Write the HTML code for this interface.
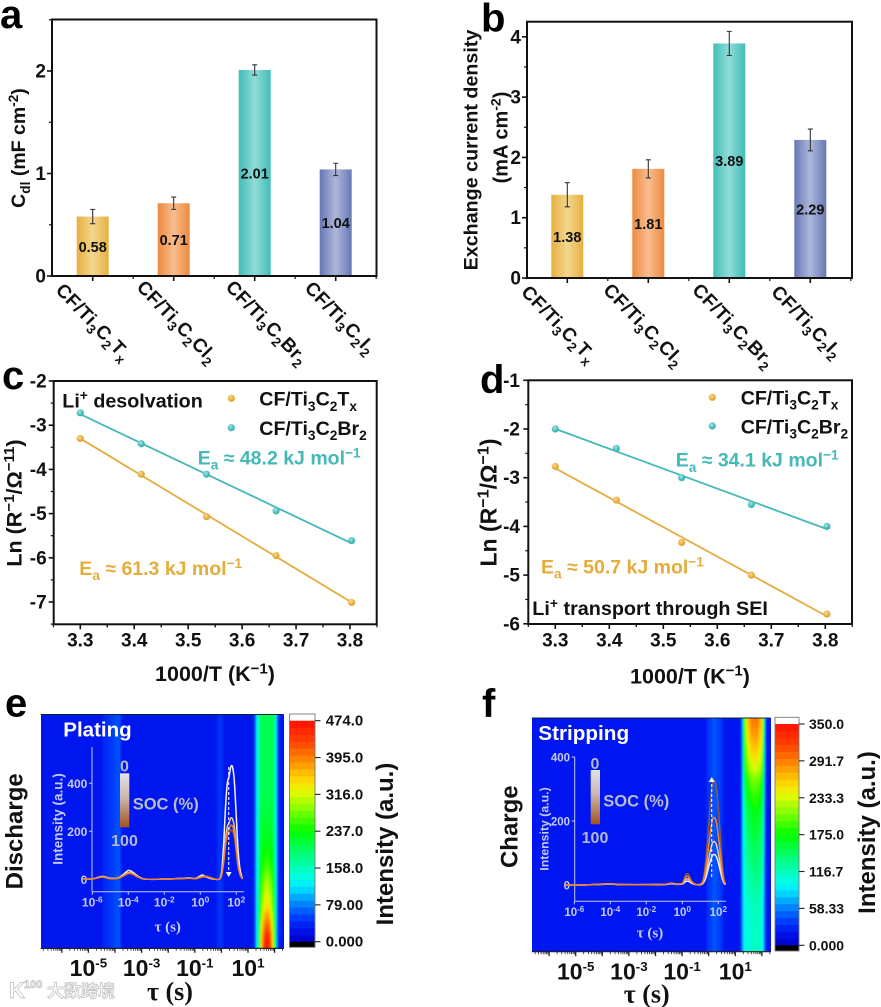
<!DOCTYPE html>
<html lang="en">
<head>
<meta charset="utf-8">
<title>Electrochemical characterisation panels</title>
<style>
html,body{margin:0;padding:0;background:#fff;}
#figure{display:block;width:881px;height:1007px;font-family:"Liberation Sans","Noto Sans CJK SC",sans-serif;font-weight:bold;filter:blur(.35px);}
</style>
</head>
<body>
<svg id="figure" xmlns="http://www.w3.org/2000/svg" width="881" height="1007" viewBox="0 0 881 1007">
<defs>
<filter id="soft" x="-2%" y="-2%" width="104%" height="104%"><feGaussianBlur stdDeviation="0.8 3"/></filter>
<clipPath id="clip-e"><rect x="41" y="715" width="243" height="234"/></clipPath>
<clipPath id="clip-f"><rect x="532" y="718" width="239" height="234"/></clipPath>
<linearGradient id="soc-grad-e" x1="0" y1="0" x2="0" y2="1"><stop offset="0" stop-color="#e4e4e8"/><stop offset=".45" stop-color="#cbb6ac"/><stop offset="1" stop-color="#a4531f"/></linearGradient>
<radialGradient id="dot-gold" cx=".4" cy=".35" r=".7"><stop offset="0" stop-color="#f7dc9a"/><stop offset=".6" stop-color="#e8ae3e"/><stop offset="1" stop-color="#e0a030"/></radialGradient>
<radialGradient id="dot-teal" cx=".4" cy=".35" r=".7"><stop offset="0" stop-color="#a8e6e4"/><stop offset=".6" stop-color="#48bcbc"/><stop offset="1" stop-color="#3cb0b0"/></radialGradient>
</defs>
</svg>
<script>
/* ---------- chart data ---------- */
const categories = ['CF/Ti_{3}C_{2}T_{x}', 'CF/Ti_{3}C_{2}Cl_{2}', 'CF/Ti_{3}C_{2}Br_{2}', 'CF/Ti_{3}C_{2}I_{2}'];
const cdlValues = [0.58, 0.71, 2.01, 1.04];
const cdlErrors = [0.07, 0.06, 0.05, 0.06];
const cdlTicks = [0, 1, 2];
const exchangeValues = [1.38, 1.81, 3.89, 2.29];
const exchangeErrors = [0.2, 0.15, 0.2, 0.18];
const exchangeTicks = [0, 1, 2, 3, 4];

const inverseT = [3.3, 3.413, 3.534, 3.663, 3.803];
const inverseTTicks = [3.3, 3.4, 3.5, 3.6, 3.7, 3.8];
const desolvationTx = [-3.30, -4.11, -5.07, -5.95, -7.01];
const desolvationBr = [-2.72, -3.42, -4.11, -4.94, -5.61];
const desolvationTicks = [-2, -3, -4, -5, -6, -7];
const transportTx = [-2.77, -3.46, -4.33, -5.0, -5.80];
const transportBr = [-2.0, -2.40, -3.0, -3.55, -4.0];
const transportTicks = [-1, -2, -3, -4, -5, -6];

const colorFractions = [0, .06, .12, .18, .24, .28, .38, .5, .6, .68, .74, .82, .9, 1];
const colorRed   = [0, 0, 0, 0, 0, 0, 0, 0, 130, 230, 255, 255, 255, 255];
const colorGreen = [0, 20, 70, 140, 220, 255, 255, 255, 255, 250, 210, 140, 70, 15];
const colorBlue  = [200, 240, 255, 255, 255, 240, 140, 0, 0, 0, 0, 0, 0, 0];

const heatTauE = [-7, -4.5, -4.42, -4.2, -3.85, -3.72, -0.2, -0.12, 0.02, 0.1, 1.15, 1.25, 1.3, 1.35, 1.4, 1.45, 1.5, 1.6, 1.7, 1.8, 1.9, 1.95, 2, 2.05, 2.1, 2.15, 2.3, 2.5];
const heatBaseE = [28, 28, 40, 46, 62, 28, 28, 46, 46, 28, 28, 45, 100, 135, 165, 195, 205, 208, 208, 208, 205, 200, 175, 130, 75, 40, 30, 28];
const heatHotE = [0, 0, 0, 0, 0, 0, 0, 0, 0, 0, 0, 0, 0, 0, .1, .3, .55, .85, 1, .9, .65, .45, .25, .05, 0, 0, 0, 0];
const heatPeakE = [205, 205, 205, 205, 205, 205, 205, 205, 205, 208, 212, 216, 222, 228, 235, 243, 255, 272, 295, 312, 330, 350, 385, 420, 455, 474];
const heatTauF = [-7, -0.1, -0.05, 0.1, 0.2, 0.4, 0.5, 0.55, 1.05, 1.15, 1.2, 1.25, 1.3, 1.35, 1.4, 1.5, 1.6, 1.7, 1.8, 1.9, 2, 2.05, 2.1, 2.15, 2.2, 2.3, 2.5];
const heatBaseF = [21, 21, 34, 38, 48, 38, 34, 21, 21, 21, 30, 55, 85, 95, 100, 105, 110, 115, 115, 110, 105, 90, 50, 30, 21, 21, 21];
const heatHotF = [0, 0, 0, 0, 0, 0, 0, 0, 0, 0, 0, 0, .3, .55, .75, .9, 1, 1, 1, .95, .85, .6, .25, 0, 0, 0, 0];
const heatPeakF = [295, 285, 275, 262, 250, 235, 215, 200, 190, 180, 170, 165, 160, 155, 150, 145, 140, 135, 130, 125, 120, 118, 116, 115, 115, 115];

const colorbarLabelsE = ['0.000', '79.00', '158.0', '237.0', '316.0', '395.0', '474.0'];
const colorbarLabelsF = ['0.000', '58.33', '116.7', '175.0', '233.3', '291.7', '350.0'];
const heatDecadesE = [-5, -3, -1, 1];
const heatDecadesF = [-5, -3, -1, 1];

const insetTauE = [-6.5, -6.2, -5.9, -5.6, -5.4, -5.1, -4.8, -4.5, -4.2, -4.0, -3.8, -3.5, -3.2, -2.8, -2, -1.5, -1, -0.6, -0.3, -0.1, 0.1, 0.3, 0.5, 0.8, 1, 1.1, 1.2, 1.3, 1.4, 1.5, 1.6, 1.7, 1.8, 1.9, 2.0, 2.1, 2.2, 2.3, 2.35];
const insetE1 = [2, 1, 3, 10, 12, 6, 4, 8, 25, 37, 32, 15, 3, 0, 1, 2, 4, 6, 3, 10, 18, 12, 5, 0, 0, 5, 40, 150, 300, 400, 430, 470, 465, 400, 260, 120, 45, 12, 2];
const insetE2 = [2, 1, 3, 9, 10, 5, 3, 7, 20, 28, 26, 12, 2, 0, 1, 2, 4, 5, 3, 8, 12, 10, 7, 1, 0, 3, 25, 85, 170, 220, 235, 255, 250, 215, 140, 65, 25, 8, 2];
const insetE3 = [2, 1, 3, 8, 10, 4, 3, 6, 18, 25, 24, 11, 2, 0, 1, 2, 3, 5, 3, 6, 10, 12, 8, 1, 0, 3, 22, 75, 150, 195, 210, 225, 220, 190, 125, 58, 22, 7, 2];
const insetE4 = [2, 1, 2, 8, 9, 4, 2, 5, 16, 23, 22, 10, 2, 0, 1, 2, 3, 4, 2, 5, 9, 13, 9, 2, 0, 3, 20, 70, 140, 178, 190, 205, 200, 172, 112, 52, 20, 6, 2];
const insetTauF = [-6.5, -5.5, -5, -4.5, -4, -3.5, -3, -2, -1.5, -1, -0.6, -0.3, 0, 0.1, 0.2, 0.3, 0.4, 0.5, 0.7, 0.9, 1.1, 1.2, 1.3, 1.4, 1.5, 1.6, 1.7, 1.8, 1.9, 2, 2.1, 2.2, 2.3, 2.4];
const insetF1 = [0, 0, 1, 3, 4, 2, 1, 1, 2, 2, 6, 3, 6, 18, 33, 35, 27, 14, 3, 1, 8, 30, 75, 140, 210, 280, 322, 325, 300, 240, 160, 80, 25, 4];
const insetF2 = [0, 0, 1, 3, 4, 2, 1, 1, 2, 2, 6, 3, 5, 14, 25, 27, 21, 11, 3, 1, 6, 20, 50, 92, 140, 182, 208, 210, 195, 155, 104, 52, 16, 3];
const insetF3 = [0, 0, 1, 2, 3, 2, 1, 1, 2, 2, 5, 3, 4, 10, 17, 19, 15, 8, 2, 1, 4, 13, 32, 60, 90, 118, 134, 135, 125, 100, 67, 33, 10, 2];
const insetF4 = [0, 0, 1, 2, 3, 1, 1, 1, 1, 1, 4, 2, 3, 7, 11, 12, 10, 6, 2, 0, 3, 9, 22, 42, 63, 82, 94, 95, 88, 70, 47, 24, 7, 1];
const insetTicksE = [0, 200, 400];
const insetTicksF = [0, 200, 400];
const insetDecades = [-6, -4, -2, 0, 2];

/* ---------- helpers ---------- */
const SVG_NS = 'http://www.w3.org/2000/svg';
const root = document.getElementById('figure');
const defs = root.querySelector('defs');
function add(parent, tag, attrs) {
  const el = document.createElementNS(SVG_NS, tag);
  for (const k in attrs) el.setAttribute(k, attrs[k]);
  parent.appendChild(el);
  return el;
}
function rich(el, str, size, scale) {
  const re = /([_^])\{([^}]*)\}|([^_^]+)/g;
  let m, off = 0;
  while ((m = re.exec(str))) {
    const ts = document.createElementNS(SVG_NS, 'tspan');
    if (m[3] !== undefined) {
      ts.setAttribute('dy', -off);
      off = 0;
      ts.textContent = m[3];
    } else {
      const d = m[1] === '_' ? size * .26 : -size * .36;
      ts.setAttribute('dy', d - off);
      off = d;
      ts.setAttribute('font-size', size * (scale || .7));
      ts.textContent = m[2];
    }
    el.appendChild(ts);
  }
}
function text(parent, str, x, y, size, anchor, fill, rot, family, scale) {
  const attrs = { x: x, y: y, 'font-size': size, 'text-anchor': anchor || 'start', fill: fill || '#111' };
  if (rot) attrs.transform = 'rotate(' + rot + ' ' + x + ' ' + y + ')';
  if (family) attrs['font-family'] = family;
  const el = add(parent, 'text', attrs);
  rich(el, str, size, scale);
  return el;
}
function line(parent, x1, y1, x2, y2, stroke, w) {
  return add(parent, 'line', { x1: x1, y1: y1, x2: x2, y2: y2, stroke: stroke, 'stroke-width': w });
}
function colormap(f) {
  f = Math.max(0, Math.min(1, f));
  let i = 0;
  while (i < colorFractions.length - 2 && f > colorFractions[i + 1]) i++;
  const t = (f - colorFractions[i]) / (colorFractions[i + 1] - colorFractions[i]);
  const c = a => Math.round(a[i] + (a[i + 1] - a[i]) * t);
  return 'rgb(' + c(colorRed) + ',' + c(colorGreen) + ',' + c(colorBlue) + ')';
}
function smoothPath(xs, ys) {
  let d = 'M' + xs[0].toFixed(2) + ' ' + ys[0].toFixed(2);
  for (let i = 0; i < xs.length - 1; i++) {
    const p0 = Math.max(i - 1, 0), p3 = Math.min(i + 2, xs.length - 1);
    const c1x = xs[i] + (xs[i + 1] - xs[p0]) / 6, c1y = ys[i] + (ys[i + 1] - ys[p0]) / 6;
    const c2x = xs[i + 1] - (xs[p3] - xs[i]) / 6, c2y = ys[i + 1] - (ys[p3] - ys[i]) / 6;
    d += 'C' + c1x.toFixed(2) + ' ' + c1y.toFixed(2) + ' ' + c2x.toFixed(2) + ' ' + c2y.toFixed(2) + ' ' + xs[i + 1].toFixed(2) + ' ' + ys[i + 1].toFixed(2);
  }
  return d;
}

/* ---------- bar panels ---------- */
const barGrad = [['#e6b040', '#f3d68e'], ['#ee8a3c', '#f8bd90'], ['#3fbdb8', '#92dcd9'], ['#6877b4', '#adb7da']];
function barPanel(id, L, R, T, B, yUnit, values, errors, ticks, yLabelRight, firstCenter, step, catDx, catDy) {
  const g = add(root, 'g', {});
  
  
  const y = v => B - v * yUnit;
  const x = i => firstCenter + i * step;
  values.forEach((v, i) => {
    const gid = id + '-bar-grad-' + i;
    const lg = add(defs, 'linearGradient', { id: gid, x1: 0, y1: 0, x2: 1, y2: 0 });
    add(lg, 'stop', { offset: 0, 'stop-color': barGrad[i][0] });
    add(lg, 'stop', { offset: .5, 'stop-color': barGrad[i][1] });
    add(lg, 'stop', { offset: 1, 'stop-color': barGrad[i][0] });
    const bar = add(g, 'rect', { x: x(i) - 16, y: y(v), width: 32, height: B - y(v), fill: 'url(#' + gid + ')' });
    
    
    const eb = add(g, 'path', {
      d: 'M' + x(i) + ' ' + y(v + errors[i]) + 'V' + y(v - errors[i]) +
         'M' + (x(i) - 2.5) + ' ' + y(v + errors[i]) + 'h5M' + (x(i) - 2.5) + ' ' + y(v - errors[i]) + 'h5',
      stroke: '#333', 'stroke-width': 1.1, fill: 'none' });
    
    
    const val = text(g, v.toFixed(2), x(i), y(v / 2) + 5.5, 14.5, 'middle', '#111');
    
    
    const tick = line(g, x(i), B, x(i), B + 5, '#111', 1.6);
    
    
    const minor = line(g, x(i) + step / 2, B, x(i) + step / 2, B + 3, '#111', 1.2);
    
    
    const cat = text(g, categories[i], x(i) + catDx[i], B + catDy[i], 19, 'start', '#111', 46);
    cat.setAttribute('letter-spacing', '.4');
    
    
  });
  ticks.forEach((t, i) => {
    const tick = line(g, L - 5, y(t), L, y(t), '#111', 1.6);
    
    
    const lab = text(g, String(t), yLabelRight, y(t) + 6.5, 19, 'end', '#111');
    
    
    const yHalf = y(t + .5);
    if (yHalf > T) {
      const minor = line(g, L - 3, yHalf, L, yHalf, '#111', 1.2);
      
      
    }
  });
  const frame = add(g, 'rect', { x: L, y: T, width: R - L, height: B - T, fill: 'none', stroke: '#111', 'stroke-width': 2 });
  
  
}
barPanel('panel-a', 52, 376.5, 19.5, 276, 102.5, cdlValues, cdlErrors, cdlTicks, 46, 92.7, 81, [-38, -38, -30, -32], [15, 12, 12, 13]);
barPanel('panel-b', 527, 852, 21.7, 278, 60.3, exchangeValues, exchangeErrors, exchangeTicks, 521, 567.3, 81, [-47, -46, -38, -40], [15, 13, 13, 15]);

/* ---------- scatter / fit panels ---------- */
function fit(xs, ys) {
  const n = xs.length, mx = xs.reduce((a, b) => a + b) / n, my = ys.reduce((a, b) => a + b) / n;
  let sxy = 0, sxx = 0;
  xs.forEach((x, i) => { sxy += (x - mx) * (ys[i] - my); sxx += (x - mx) * (x - mx); });
  const m = sxy / sxx;
  return x => my + m * (x - mx);
}
function linePanel(id, L, R, T, B, x33, xUnit, yUnit, seriesTx, seriesBr, ticks, yLabelRight, xLabelY) {
  const g = add(root, 'g', {});
  
  
  const x = v => x33 + (v - 3.3) * xUnit;
  const y = v => T + (ticks[0] - v) * yUnit;
  [[seriesTx, '#e5ac3c', 'dot-gold', 'tx'], [seriesBr, '#45b8b8', 'dot-teal', 'br']].forEach(s => {
    const f = fit(inverseT, s[0]);
    const x0 = inverseT[0], x1 = inverseT[inverseT.length - 1];
    const ln = line(g, x(x0), y(f(x0)), x(x1), y(f(x1)), s[1], 1.8);
    
    
    inverseT.forEach((t, i) => {
      const c = add(g, 'circle', { cx: x(t), cy: y(s[0][i]), r: 3.6, fill: 'url(#' + s[2] + ')' });
      
      
    });
  });
  ticks.forEach((t, i) => {
    const tick = line(g, L - 5, y(t), L, y(t), '#111', 1.6);
    
    
    const lab = text(g, String(t), yLabelRight, y(t) + 6.5, 19, 'end', '#111');
    
    
    if (y(t - .5) < B) {
      const minor = line(g, L - 3, y(t - .5), L, y(t - .5), '#111', 1.2);
      
      
    }
  });
  inverseTTicks.forEach((t, i) => {
    const tick = line(g, x(t), B, x(t), B + 5, '#111', 1.6);
    
    
    const lab = text(g, t.toFixed(1), x(t), xLabelY, 19, 'middle', '#111');
    
    
    [-.05, .05].forEach(d => {
      const minor = line(g, x(t + d), B, x(t + d), B + 3, '#111', 1.2);
      
      
    });
  });
  const frame = add(g, 'rect', { x: L, y: T, width: R - L, height: B - T, fill: 'none', stroke: '#111', 'stroke-width': 2 });
  
  
}
linePanel('panel-c', 53.7, 376.7, 381, 624.3, 80.3, 539.4, 44.2, desolvationTx, desolvationBr, desolvationTicks, 46.7, 646.7);
linePanel('panel-d', 528.3, 852, 380.3, 624, 555.3, 540, 48.7, transportTx, transportBr, transportTicks, 520, 646.7);

/* ---------- heatmap panels ---------- */
function heatPanel(o) {
  const g = add(root, 'g', {});
  
  
  const x = t => o.x1 + (t - 1) * 26.6;
  const clipG = add(g, 'g', { 'clip-path': 'url(#' + o.clip + ')' });
  
  
  const bg = add(clipG, 'rect', { x: o.L, y: o.T, width: o.R - o.L, height: o.B - o.T, fill: colormap(.06) });
  
  
  const softG = add(clipG, 'g', { filter: 'url(#soft)' });
  
  
  const h = (o.B - o.T) / o.peak.length;
  const t0 = o.tau[0], tN = o.tau[o.tau.length - 1];
  o.peak.forEach((p, i) => {
    const gid = o.id + '-row-grad-' + i;
    const lg = add(defs, 'linearGradient', { id: gid, gradientUnits: 'userSpaceOnUse', x1: x(t0), y1: 0, x2: x(tN), y2: 0 });
    o.tau.forEach((t, j) => {
      const v = o.base[j] + (p - o.basePeak) * o.hot[j];
      add(lg, 'stop', { offset: (t - t0) / (tN - t0), 'stop-color': colormap(v / o.max) });
    });
    const row = add(softG, 'rect', { x: o.L - 8, y: o.T + i * h - (i === 0 ? 8 : 0), width: o.R - o.L + 16, height: h + .6 + (i === 0 || i === o.peak.length - 1 ? 8 : 0), fill: 'url(#' + gid + ')' });
    
    
  });
  const topEdge = line(g, o.L, o.T, o.R, o.T, '#123', 1);
  
  
  const axisLine = line(g, o.L, o.B, o.R, o.B, '#222', 1.2);
  
  

  /* log ticks */
  for (let d = -7; d <= 2; d++) {
    if (x(d) >= o.L - .5 && x(d) <= o.R) {
      const tick = line(g, x(d), o.B, x(d), o.B + 4.5, '#222', 1.3);
      
      
    }
    for (let m = 2; m < 10; m++) {
      const xm = x(d + Math.log10(m));
      if (xm >= o.L && xm <= o.R) {
        const minor = line(g, xm, o.B, xm, o.B + 2.5, '#222', .8);
        
        
      }
    }
  }
  o.decades.forEach((d, i) => {
    const lab = text(g, '10^{' + (d < 0 ? '-' : '') + Math.abs(d) + '}', x(d) + o.labelShift, o.labelY, 23, 'middle', '#111', 0, null, .58);
    
    
  });

  /* colour bar */
  const cb = o.cb;
  const cy = v => cb.y0 - v / o.max * (cb.y0 - cb.yMax);
  const white = add(g, 'rect', { x: cb.x, y: cb.top, width: cb.w, height: cb.yMax - cb.top, fill: '#fff' });
  
  
  const bands = 32;
  for (let i = 0; i < bands; i++) {
    const v0 = o.max * i / bands, v1 = o.max * (i + 1) / bands;
    const band = add(g, 'rect', { x: cb.x, y: cy(v1), width: cb.w, height: cy(v0) - cy(v1) + .4, fill: colormap((i + .5) / bands) });
    
    
  }
  const black = add(g, 'rect', { x: cb.x, y: cb.y0, width: cb.w, height: cb.bottom - cb.y0, fill: '#000' });
  
  
  const border = add(g, 'rect', { x: cb.x, y: cb.top, width: cb.w, height: cb.bottom - cb.top, fill: 'none', stroke: '#777', 'stroke-width': .9 });
  
  
  o.cbLabels.forEach((s, i) => {
    const v = Number(s);
    const tick = line(g, cb.x + cb.w, cy(v), cb.x + cb.w + 5.5, cy(v), '#222', 1.1);
    
    
    const lab = text(g, s, cb.labelX, cy(v) + 5, cb.font, 'start', '#111');
    
    
  });

  /* inset */
  const ins = o.inset;
  const ix = t => ins.x0 + t * 18;
  const iy = v => ins.y0 - v * ins.yUnit;
  const axisColor = '#c4caf2';
  const inset = add(g, 'g', {});
  
  
  const yAxis = line(inset, ins.left, ins.top, ins.left, ins.bottom, axisColor, 1);
  
  
  const xAxis = line(inset, ins.left, ins.bottom, ins.right, ins.bottom, axisColor, 1);
  
  
  ins.ticks.forEach((t, i) => {
    const tick = line(inset, ins.left - 3, iy(t), ins.left, iy(t), axisColor, 1);
    
    
    const lab = text(inset, String(t), ins.yLabelRight, iy(t) + 4.5, ins.font, 'end', '#c4caf2');
    
    
  });
  insetDecades.forEach((d, i) => {
    const tick = line(inset, ix(d), ins.bottom, ix(d), ins.bottom + 3, axisColor, 1);
    
    
    const lab = text(inset, '10^{' + (d < 0 ? '-' : '') + Math.abs(d) + '}', ix(d), ins.xLabelY, ins.font, 'middle', '#c4caf2');
    
    
  });
  ins.series.forEach((s, i) => {
    const p = add(inset, 'path', { d: smoothPath(ins.tau.map(ix), s.map(iy)), fill: 'none', stroke: ins.colors[i], 'stroke-width': 1.5 });
    
    
  });
  const arrow = line(inset, ins.arrowX, ins.arrowFrom, ins.arrowX, ins.arrowTo, '#f4f4ff', 1.1);
  arrow.setAttribute('stroke-dasharray', '3 2');
  
  
  const dir = ins.arrowTo > ins.arrowFrom ? 1 : -1;
  const head = add(inset, 'path', {
    d: 'M' + (ins.arrowX - 3) + ' ' + (ins.arrowTo - dir * 5) + 'L' + ins.arrowX + ' ' + ins.arrowTo + 'L' + (ins.arrowX + 3) + ' ' + (ins.arrowTo - dir * 5) + 'Z',
    fill: '#f4f4ff' });
  
  
}
heatPanel({
  id: 'panel-e', clip: 'clip-e', L: 40.7, R: 283.7, T: 714.5, B: 948.3, x1: 248, labelShift: 0, labelY: 976,
  tau: heatTauE, base: heatBaseE, hot: heatHotE, peak: heatPeakE, basePeak: 208, max: 474, decades: heatDecadesE,
  cbLabels: colorbarLabelsE,
  cb: { x: 289.5, w: 25.5, top: 714, yMax: 720.7, y0: 941.7, bottom: 947.3, labelX: 325.7, font: 15 },
  inset: {
    x0: 200.3, y0: 879.3, yUnit: .24, left: 92, right: 244, top: 747, bottom: 891.7, ticks: insetTicksE,
    tau: insetTauE, series: [insetE1, insetE2, insetE4, insetE3],
    colors: ['#f4f2f4', '#e8c4a8', '#a85a28', '#ec8434'],
    yLabelRight: 87.3, xLabelY: 906.7, font: 12,
    arrowX: 228.7, arrowFrom: 767, arrowTo: 877
  }
});
heatPanel({
  id: 'panel-f', clip: 'clip-f', L: 531.7, R: 770.7, T: 718, B: 951.7, x1: 735.3, labelShift: 0, labelY: 979.3,
  tau: heatTauF, base: heatBaseF, hot: heatHotF, peak: heatPeakF, basePeak: 115, max: 350, decades: heatDecadesF,
  cbLabels: colorbarLabelsF,
  cb: { x: 775, w: 24, top: 717.3, yMax: 724, y0: 945.3, bottom: 951, labelX: 809, font: 14 },
  inset: {
    x0: 682.3, y0: 885, yUnit: .32, left: 574.7, right: 726, top: 756.7, bottom: 901.3, ticks: insetTicksF,
    tau: insetTauF, series: [insetF4, insetF3, insetF1, insetF2],
    colors: ['#f4f4f6', '#f0c8b0', '#8a5a4a', '#ec8434'],
    yLabelRight: 570, xLabelY: 916, font: 11.5,
    arrowX: 711.7, arrowFrom: 877, arrowTo: 777
  }
});

/* ---------- static labels ---------- */
const SERIF = '"Liberation Serif",serif';
const staticLabels = [
  ['panel-letter-a', 'a', 0, 28, 40, 'start', '#000', 0],
  ['panel-letter-b', 'b', 481, 31.5, 40, 'start', '#000', 0],
  ['panel-letter-c', 'c', 2, 389, 40, 'start', '#000', 0],
  ['panel-letter-d', 'd', 480, 393, 40, 'start', '#000', 0],
  ['panel-letter-e', 'e', 5, 716.7, 40, 'start', '#000', 0],
  ['panel-letter-f', 'f', 482, 717, 40, 'start', '#000', 0],
  ['panel-a-y-title', 'C_{dl} (mF cm^{-2})', 25, 148, 19.5, 'middle', '#111', -90],
  ['panel-b-y-title-line-1', 'Exchange current density', 477.3, 150, 19.7, 'middle', '#111', -90],
  ['panel-b-y-title-line-2', '(mA cm^{-2})', 507.7, 137.5, 20, 'middle', '#111', -90],
  ['panel-c-y-title', 'Ln (R^{−1}/Ω^{−11})', 21.7, 503, 21.5, 'middle', '#111', -90],
  ['panel-c-x-title', '1000/T (K^{−1})', 215, 681, 21.5, 'middle', '#111', 0],
  ['panel-c-annotation', 'Li^{+} desolvation', 62.3, 407.3, 19.7, 'start', '#111', 0],
  ['panel-c-legend-label-tx', 'CF/Ti_{3}C_{2}T_{x}', 259.3, 405.7, 19.6, 'start', '#111', 0],
  ['panel-c-legend-label-br', 'CF/Ti_{3}C_{2}Br_{2}', 259.3, 435, 19.6, 'start', '#111', 0],
  ['panel-c-ea-br', 'E_{a} ≈ 48.2 kJ mol^{−1}', 197.7, 464.3, 19.5, 'start', '#45b8b8', 0],
  ['panel-c-ea-tx', 'E_{a} ≈ 61.3 kJ mol^{−1}', 79.3, 575, 19.5, 'start', '#e5ac3c', 0],
  ['panel-d-y-title', 'Ln (R^{−1}/Ω^{−1})', 496.7, 502.5, 23, 'middle', '#111', -90],
  ['panel-d-x-title', '1000/T (K^{−1})', 690, 683.3, 21.5, 'middle', '#111', 0],
  ['panel-d-annotation', 'Li^{+} transport through SEI', 532.3, 615, 19.8, 'start', '#111', 0],
  ['panel-d-legend-label-tx', 'CF/Ti_{3}C_{2}T_{x}', 740.7, 404.3, 19.6, 'start', '#111', 0],
  ['panel-d-legend-label-br', 'CF/Ti_{3}C_{2}Br_{2}', 740.7, 433.3, 19.6, 'start', '#111', 0],
  ['panel-d-ea-br', 'E_{a} ≈ 34.1 kJ mol^{−1}', 675.7, 466.7, 19.5, 'start', '#45b8b8', 0],
  ['panel-d-ea-tx', 'E_{a} ≈ 50.7 kJ mol^{−1}', 541, 573.3, 19.5, 'start', '#e5ac3c', 0],
  ['panel-e-side-label', 'Discharge', 22.7, 831.3, 24, 'middle', '#111', -90],
  ['panel-e-colorbar-title', 'Intensity (a.u.)', 393, 844, 24, 'middle', '#111', -90],
  ['panel-e-title', 'Plating', 63.3, 736.7, 20.5, 'start', '#fff', 0],
  ['panel-e-inset-y-title', 'Intensity (a.u.)', 62.7, 819, 13.5, 'middle', '#c4caf2', -90],
  ['panel-e-soc-0', '0', 124.5, 771.5, 16, 'middle', '#b4b8cc', 0],
  ['panel-e-soc-100', '100', 124.5, 846, 16, 'middle', '#b4b8cc', 0],
  ['panel-e-soc-title', 'SOC (%)', 132.7, 809.3, 16.5, 'start', '#b8bccc', 0],
  ['panel-f-side-label', 'Charge', 517.3, 826.7, 24, 'middle', '#111', -90],
  ['panel-f-colorbar-title', 'Intensity (a.u.)', 875, 832.5, 24, 'middle', '#111', -90],
  ['panel-f-title', 'Stripping', 538.3, 740, 20.7, 'start', '#fff', 0],
  ['panel-f-inset-y-title', 'Intensity (a.u.)', 548.3, 829, 12.3, 'middle', '#c4caf2', -90],
  ['panel-f-soc-0', '0', 595, 769, 16, 'middle', '#b4b8cc', 0],
  ['panel-f-soc-100', '100', 595, 843, 16, 'middle', '#b4b8cc', 0],
  ['panel-f-soc-title', 'SOC (%)', 603.3, 806.7, 16.5, 'start', '#b8bccc', 0]
];
staticLabels.forEach(a => {
  const el = text(root, a[1], a[2], a[3], a[4], a[5], a[6], a[7]);
  
  
});
const serifLabels = [
  ['panel-e-x-title', 'τ (s)', 170, 1000, 26, '#111'],
  ['panel-f-x-title', 'τ (s)', 646.7, 1002.7, 26, '#111'],
  ['panel-e-inset-x-title', 'τ (s)', 167.7, 931.7, 15, '#c4caf2'],
  ['panel-f-inset-x-title', 'τ (s)', 650, 937.3, 15, '#c4caf2']
];
serifLabels.forEach(a => {
  const el = text(root, a[1], a[2], a[3], a[4], 'middle', a[5], 0, SERIF);
  
  
});
const socBars = [['panel-e-soc-bar', 120, 773.3, 9.3, 54], ['panel-f-soc-bar', 590.7, 770, 9.3, 54.3]];
socBars.forEach(a => {
  const r = add(root, 'rect', { x: a[1], y: a[2], width: a[3], height: a[4], fill: 'url(#soc-grad-e)' });
  
  
});
const legendDots = [
  ['panel-c-legend-dot-tx', 231.3, 398.3, 'dot-gold'],
  ['panel-c-legend-dot-br', 231.3, 427.7, 'dot-teal'],
  ['panel-d-legend-dot-tx', 712.3, 397.3, 'dot-gold'],
  ['panel-d-legend-dot-br', 712.3, 426, 'dot-teal']
];
legendDots.forEach(a => {
  const c = add(root, 'circle', { cx: a[1], cy: a[2], r: 3.6, fill: 'url(#' + a[3] + ')' });
  
  
});

/* ---------- watermark ---------- */
const wm = add(root, 'g', { stroke: '#c8c8c8', 'stroke-width': .9 });


const wmK = text(wm, 'K', 9, 998, 22, 'start', '#fff');


const wm100 = text(wm, '100', 24, 988, 11, 'start', '#fff');


const wmText = text(wm, '大数跨境', 47, 997, 17, 'start', '#fff');


</script>
</body>
</html>
